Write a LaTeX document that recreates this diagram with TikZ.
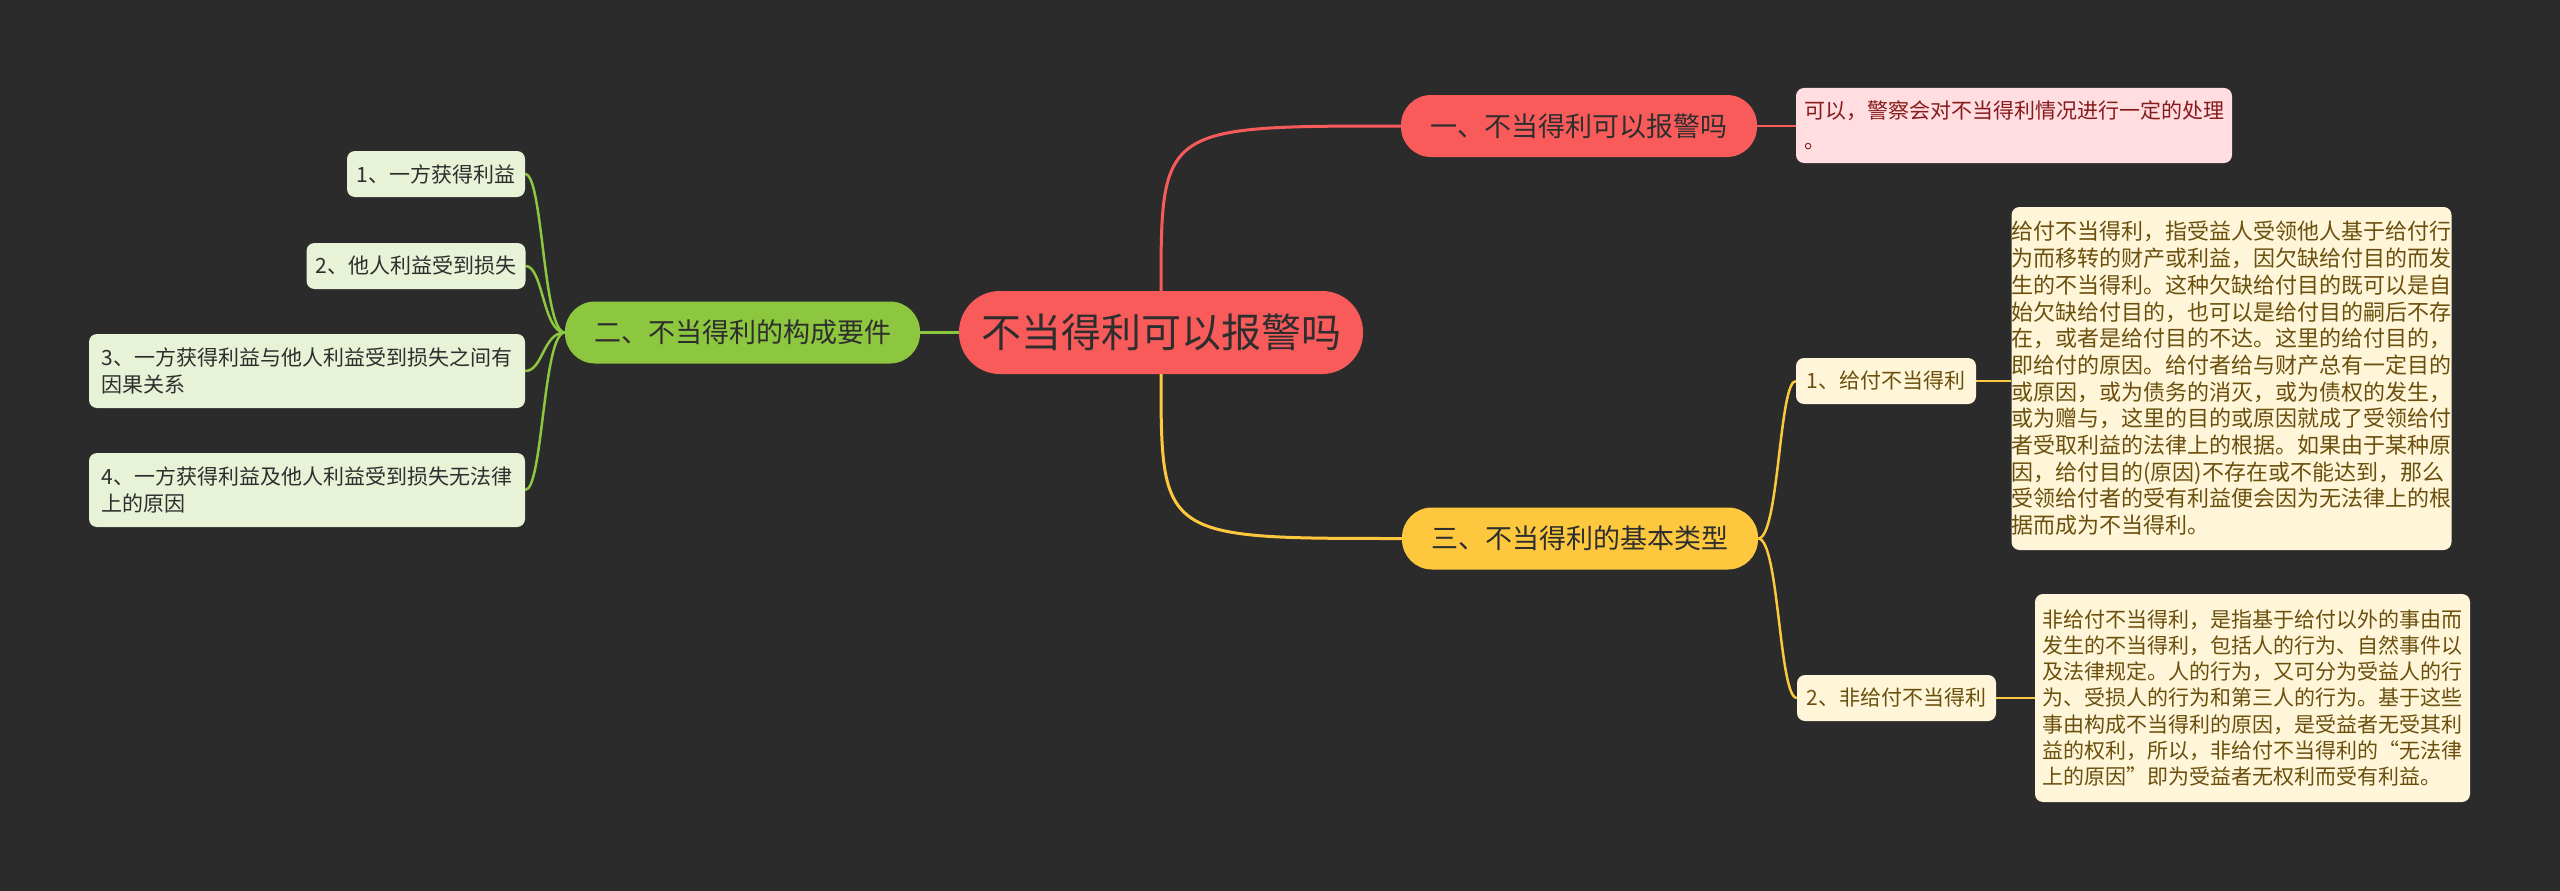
\documentclass[tikz,border=0pt]{standalone}
\usepackage{fontspec}
\setmainfont{Noto Sans CJK SC}
\usetikzlibrary{backgrounds}
\definecolor{bgc}{HTML}{2B2B2B}
\definecolor{redc}{HTML}{F95B5B}
\definecolor{greenc}{HTML}{8DC63F}
\definecolor{yellowc}{HTML}{FDC83D}
\definecolor{pinkfill}{HTML}{FFDDE0}
\definecolor{pinktext}{HTML}{861B1B}
\definecolor{greenfill}{HTML}{E7F2D6}
\definecolor{creamfill}{HTML}{FFF6DA}
\definecolor{creamtext}{HTML}{6B4F0C}
\definecolor{darktext}{HTML}{2E2E2E}
\tikzset{
  hubnode/.style={inner sep=0pt, align=center, text=darktext},
  topicnode/.style={inner sep=0pt, align=center, text=darktext, minimum height=62pt, minimum width=356pt, rounded corners=30pt, font=\fontsize{27}{32}\selectfont},
  leafbox/.style={inner sep=0pt, align=left, rounded corners=8pt, font=\fontsize{21}{27}\selectfont},
  greenleaf/.style={leafbox, fill=greenfill, text=darktext, minimum height=46pt},
  yellowleaf/.style={leafbox, fill=creamfill, text=creamtext, minimum height=46pt},
  conn/.style={line width=3pt},
  subconn/.style={line width=2.5pt}
}
\begin{document}
\begin{tikzpicture}[x=1pt,y=-1pt]
\useasboundingbox (0,0) rectangle (2560,891);
% nodes
\node[hubnode, fill=redc, minimum width=404pt, minimum height=83pt, rounded corners=41pt, font=\fontsize{40}{48}\selectfont] (c) at (1161,332.5) {不当得利可以报警吗};
\node[topicnode, fill=redc] (t1) at (1579,126) {一、不当得利可以报警吗};
\node[topicnode, fill=greenc, minimum width=355pt] (t2) at (742.5,332.5) {二、不当得利的构成要件};
\node[topicnode, fill=yellowc] (t3) at (1580,538.5) {三、不当得利的基本类型};
\node[leafbox, fill=pinkfill, text=pinktext, minimum width=436pt, minimum height=75pt, font=\fontsize{21}{30}\selectfont] (p1) at (2014,125.5) {可以，警察会对不当得利情况进行一定的处理\\。};
\node[greenleaf, minimum width=178pt] (g1) at (436,174) {1、一方获得利益};
\node[greenleaf, minimum width=219pt] (g2) at (416,266) {2、他人利益受到损失};
\node[greenleaf, minimum width=436pt, minimum height=74pt] (g3) at (307,371) {3、一方获得利益与他人利益受到损失之间有\\因果关系};
\node[greenleaf, minimum width=436pt, minimum height=74pt] (g4) at (307,490) {4、一方获得利益及他人利益受到损失无法律\\上的原因};
\node[yellowleaf, minimum width=180pt] (y1) at (1886,381) {1、给付不当得利};
\node[yellowleaf, minimum width=199pt] (y2) at (1896.5,698) {2、非给付不当得利};
\node[leafbox, fill=creamfill, text=creamtext, minimum width=437pt, minimum height=343pt, font=\fontsize{22}{26.7}\selectfont] (b1) at (2231.5,378.5) {给付不当得利，指受益人受领他人基于给付行\\为而移转的财产或利益，因欠缺给付目的而发\\生的不当得利。这种欠缺给付目的既可以是自\\始欠缺给付目的，也可以是给付目的嗣后不存\\在，或者是给付目的不达。这里的给付目的，\\即给付的原因。给付者给与财产总有一定目的\\或原因，或为债务的消灭，或为债权的发生，\\或为赠与，这里的目的或原因就成了受领给付\\者受取利益的法律上的根据。如果由于某种原\\因，给付目的(原因)不存在或不能达到，那么\\受领给付者的受有利益便会因为无法律上的根\\据而成为不当得利。};
\node[leafbox, fill=creamfill, text=creamtext, minimum width=435pt, minimum height=208pt, font=\fontsize{21}{26.3}\selectfont] (b2) at (2252.5,698) {非给付不当得利，是指基于给付以外的事由而\\发生的不当得利，包括人的行为、自然事件以\\及法律规定。人的行为，又可分为受益人的行\\为、受损人的行为和第三人的行为。基于这些\\事由构成不当得利的原因，是受益者无受其利\\益的权利，所以，非给付不当得利的“无法律\\上的原因”即为受益者无权利而受有利益。};
% background and connectors
\begin{scope}[on background layer]
\fill[bgc] (0,0) rectangle (2560,891);
\draw[conn, redc] (c.north) .. controls (c.north |- t1.west) .. (t1.west);
\draw[subconn, redc] (t1.east) -- (p1.west |- t1.east);
\draw[conn, yellowc] (c.south) .. controls (c.south |- t3.west) .. (t3.west);
\draw[conn, greenc] (c.west) -- (t2.east);
\draw[subconn, greenc] (t2.west) .. controls (543,332.5) and (543,174) .. (g1.east);
\draw[subconn, greenc] (t2.west) .. controls (543,332.5) and (543,266) .. (g2.east);
\draw[subconn, greenc] (t2.west) .. controls (543,332.5) and (543,371) .. (g3.east);
\draw[subconn, greenc] (t2.west) .. controls (543,332.5) and (543,490) .. (g4.east);
\draw[subconn, yellowc] (t3.east) .. controls (1779,538.5) and (1779,381) .. (y1.west);
\draw[subconn, yellowc] (t3.east) .. controls (1779,538.5) and (1779,698) .. (y2.west);
\draw[subconn, yellowc] (y1.east) -- (b1.west |- y1.east);
\draw[subconn, yellowc] (y2.east) -- (b2.west |- y2.east);
\end{scope}
\end{tikzpicture}
\end{document}
